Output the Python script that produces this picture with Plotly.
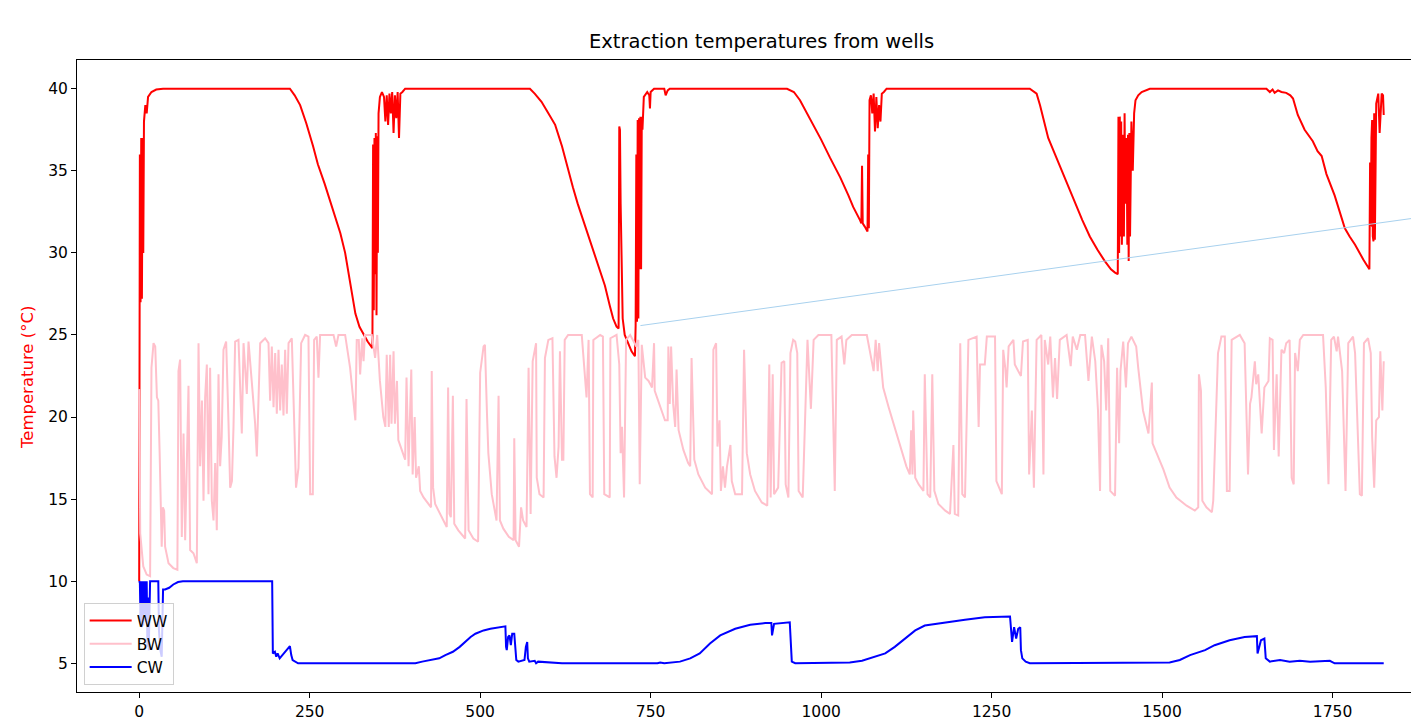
import plotly.graph_objects as go

# ---- data (day index, temperature in deg C) ----
ww_points = [
    (0, 10), (0.5, 22), (1, 36), (2, 27), (3, 37), (4, 27.2), (5, 37), (6, 30), (7, 38), (9, 39),
    (11, 38.5), (13, 39.5), (18, 39.8), (25, 39.95), (35, 40), (221, 40), (228, 39.6), (236, 39.0),
    (245, 37.9), (255, 36.5), (262, 35.4), (272, 34.2), (284, 32.6), (295, 31.2), (302, 30.0),
    (308, 28.6), (313, 27.2), (317, 26.3), (323, 25.5), (328, 25.1), (335, 24.6), (342, 24.2),
    (343, 36.6), (344, 26.5), (345, 37.0), (346, 28.7), (347, 37.3), (348, 26.2), (349, 37.1),
    (350, 30), (351, 38.5), (353, 39.5), (356, 39.8), (359, 39.5), (361, 38.0), (363, 39.6),
    (365, 37.8), (367, 39.7), (369, 38.5), (371, 39.8), (373, 37.3), (375, 39.6), (377, 38.2),
    (379, 39.8), (381, 37.0), (383, 39.7), (386, 39.8), (390, 40), (573, 40), (580, 39.7),
    (590, 39.2), (600, 38.5), (610, 37.8), (620, 36.5), (629, 35.0), (636, 34.0), (643, 33.0),
    (655, 31.5), (666, 30.0), (675, 29.0), (683, 28.0), (690, 26.8), (695, 26.0), (700, 25.5),
    (703, 25.4), (704, 37.7), (705, 37.5), (706, 33.0), (707, 30.0), (709, 26.0), (712, 25.0),
    (717, 24.5), (722, 24.0), (727, 23.7), (728, 25.6), (729, 36.0), (730, 25.8), (731, 38.1),
    (732, 26), (733, 38.2), (734, 29), (735, 38.3), (736, 29), (737, 38.3), (738, 37.5),
    (740, 39.5), (745, 39.8), (748, 39.6), (749, 38.8), (750, 39.8), (755, 40), (770, 40),
    (772, 39.6), (775, 39.9), (778, 40), (950, 40), (960, 39.8), (969, 39.3), (978, 38.6),
    (988, 37.9), (1000, 36.9), (1013, 35.8), (1028, 34.6), (1040, 33.5), (1047, 32.8),
    (1057, 32.0), (1059, 31.8), (1060, 35.3), (1061, 31.8), (1064, 31.6), (1067, 31.4),
    (1068, 31.3), (1069, 36), (1070, 31.5), (1071, 39.3), (1073, 39.6), (1075, 38.5),
    (1077, 39.7), (1079, 37.4), (1081, 39.5), (1083, 37.6), (1085, 39.0), (1087, 38.0),
    (1089, 39.7), (1092, 39.8), (1096, 40), (1306, 40), (1316, 39.7), (1321, 39), (1327, 38.0),
    (1333, 37.0), (1343, 36.0), (1353, 35.0), (1362, 34.0), (1372, 33.0), (1383, 32.0),
    (1394, 31.0), (1405, 30.2), (1416, 29.5), (1425, 29.0), (1431, 28.8), (1435, 28.7),
    (1436, 38.3), (1437, 30), (1438, 38.3), (1439, 31), (1440, 38.0), (1441, 30.5), (1443, 37.2),
    (1444, 31.0), (1445, 38.5), (1446, 33), (1448, 37.0), (1449, 30.5), (1450, 37.2),
    (1451, 29.5), (1452, 37.3), (1453, 31), (1455, 38.0), (1457, 35), (1459, 38.5), (1461, 39.3),
    (1465, 39.6), (1470, 39.8), (1482, 40), (1653, 40), (1658, 39.8), (1662, 39.95),
    (1665, 39.75), (1670, 39.9), (1675, 39.8), (1682, 39.75), (1688, 39.6), (1692, 39.4),
    (1699, 38.4), (1709, 37.5), (1721, 36.8), (1728, 36.2), (1734, 35.9), (1741, 34.8),
    (1753, 33.5), (1760, 32.5), (1768, 31.5), (1775, 31.0), (1783, 30.5), (1795, 29.6),
    (1804, 29.0), (1805, 35.5), (1806, 31.6), (1807, 37.0), (1808, 38.1), (1809, 31.0),
    (1810, 30.7), (1811, 38.5), (1812, 30.8), (1814, 39.1), (1817, 39.7), (1819, 37.3),
    (1822, 39.7), (1824, 39.6), (1825, 38.4),
]

bw_points = [
    (0, 21.7), (1.5, 12.9), (6, 10.9), (11, 10.4), (16, 10.3), (18, 23.0), (21, 24.5), (23.5, 24.3),
    (26, 21.2), (28, 21.0), (30, 17.8), (33, 12.1), (34.7, 14.5), (36.6, 14.3), (38, 12.1),
    (43, 11.1), (50, 10.8), (56, 10.7), (57.6, 22.8), (60, 23.5), (62.5, 12.7), (65, 19.0),
    (67.4, 12.5), (72.3, 21.9), (74.7, 11.9), (79.6, 11.7), (84.5, 11.1), (87, 24.5), (89.4, 17.0),
    (92, 21.0), (94.3, 14.9), (96.7, 21.2), (99.2, 23.2), (101.6, 15.3), (104, 23.0), (106.5, 14.9),
    (109, 13.7), (111.4, 17.2), (113.8, 13.1), (116.3, 22.6), (118.7, 17.0), (121, 18.8),
    (123.6, 24.1), (127.5, 24.6), (131, 19.6), (133.4, 15.7), (136, 16.1), (138.3, 19.4),
    (140.7, 24.6), (145.6, 24.7), (150.5, 19.0), (153, 24.5), (157.8, 21.4), (160.3, 24.6),
    (165, 22.2), (170, 19.6), (172.5, 17.6), (177.4, 24.5), (184.7, 24.8), (189.6, 24.5),
    (192, 21.0), (194.5, 24.3), (197, 20.6), (199.4, 23.9), (201.8, 20.2), (204.3, 24.1),
    (206.7, 20.4), (209.1, 23.2), (211.6, 20.1), (214, 24.1), (216.5, 20.2), (219, 24.5),
    (223.8, 24.8), (226.3, 21.0), (230, 15.7), (233.6, 16.9), (237.5, 24.5), (243.3, 25.0),
    (248.2, 24.9), (250.7, 15.3), (254.6, 15.3), (256.5, 24.7), (260.4, 24.9), (262.9, 22.4),
    (265.3, 25.0), (285, 25.0), (288.8, 24.3), (292.2, 25.0), (302, 25.0), (309.3, 23.0),
    (314.2, 21.0),
    (317, 19.8), (319, 24.7), (322, 24.7), (324, 22.6), (327, 24.8), (329, 23.4), (331, 25.0),
    (341, 25.0), (346, 23.6), (349, 25.0), (351, 23.6), (353, 22.2), (358, 20.0), (361, 19.4),
    (363, 23.8), (366, 19.4), (368, 23.8), (370, 19.6), (373, 24.0), (375, 19.6), (378, 22.2),
    (380, 18.6), (385, 18.0), (390, 17.4), (392, 22.4), (395, 17.0), (399, 22.9), (401, 16.5),
    (404, 20.0), (406, 16.3), (410, 17.0), (412, 15.5), (417, 15.1), (424, 14.7), (428, 14.5),
    (429, 22.8), (431, 15.7), (434, 14.7), (441, 14.1), (449, 13.5), (451, 13.3), (453, 21.8),
    (455, 14.1), (457, 13.9), (460, 21.3), (462, 13.5), (468, 13.1), (478, 12.6), (480, 21.1),
    (483, 13.1), (490, 12.6), (497, 12.4), (500, 22.7), (505, 24.3), (507, 24.4), (510, 20.2),
    (512, 17.8), (515, 16.3), (517, 15.3), (524, 13.7), (527, 21.3), (529, 13.7), (534, 13.2),
    (542, 12.7), (549, 12.5), (550, 18.7), (552, 12.5), (557, 12.1), (560, 14.5), (563, 13.7),
    (568, 13.3), (571, 23.0), (574, 14.1), (577, 23.4), (582, 24.5), (583, 16.3), (587, 15.3),
    (593, 15.1), (595, 23.6), (600, 24.7), (606, 24.8), (609, 17.6), (612, 16.3), (615, 18.2),
    (617, 24.0), (620, 17.4), (622, 17.4), (624, 24.7), (629, 25.0), (649, 25.0), (654, 21.8),
    (656, 21.2), (659, 24.7), (661, 15.3), (665, 15.1), (666, 24.7), (676, 25.0), (680, 24.9),
    (682, 15.3), (690, 15.1), (691, 24.8), (700, 25.0), (704, 23.2), (706, 17.8), (708, 19.4),
    (711, 15.1), (714, 24.7), (720, 25.0), (729, 24.3), (732, 24.7), (734, 15.9), (737, 24.4),
    (742, 22.4), (747, 22.2), (752, 21.8), (755, 24.5), (756, 21.6), (764, 20.6), (771, 19.8),
    (775, 19.8), (776, 24.3), (778, 20.8), (780, 24.3), (783, 20.8), (786, 19.4), (788, 22.9),
    (791, 19.2), (798, 18.0), (805, 17.2), (808, 17.0), (810, 23.6), (814, 17.4), (820, 16.5),
    (830, 15.7), (840, 15.3), (842, 24.1), (846, 24.5), (848, 18.2), (851, 19.8), (853, 15.5),
    (856, 17.0), (859, 15.7), (862, 17.0), (867, 18.3), (869, 16.1), (874, 15.3), (884, 15.3),
    (887, 24.1), (891, 17.8), (896, 16.5), (903, 15.5), (913, 14.8), (921, 14.6), (924, 23.2),
    (926, 15.1), (929, 22.6), (931, 15.3), (937, 15.7), (942, 23.3), (946, 23.4), (948, 15.9),
    (952, 15.1), (955, 23.9), (959, 24.7), (962, 24.6), (965, 23.9), (967, 15.5), (973, 15.1),
    (979, 24.7),
    (980, 24.7), (985, 20.5), (989, 24.7), (996, 25.0), (1015, 25.0), (1020, 15.5), (1023, 24.7),
    (1030, 24.9), (1034, 23.2), (1037, 24.7), (1045, 25.0), (1067, 25.0), (1074, 23.6),
    (1077, 22.8), (1080, 24.7), (1083, 22.8), (1085, 24.5), (1091, 21.8), (1099, 20.6),
    (1108, 19.4), (1116, 18.2), (1125, 17.0), (1130, 16.5), (1132, 19.2), (1134, 16.5),
    (1135, 20.4), (1138, 16.3), (1143, 15.9), (1150, 15.5), (1152, 22.6), (1156, 15.3),
    (1160, 15.1), (1163, 22.6), (1166, 15.5), (1172, 14.7), (1182, 14.3), (1189, 14.1),
    (1194, 18.3), (1196, 14.1), (1201, 14.0), (1204, 24.5), (1207, 15.3), (1211, 15.1),
    (1216, 24.7), (1228, 24.9), (1231, 19.4), (1233, 23.2), (1240, 23.2), (1243, 24.9),
    (1255, 24.9), (1257, 16.1), (1265, 15.3), (1267, 24.1), (1270, 23.0), (1272, 21.8),
    (1275, 24.3), (1282, 24.7), (1284, 23.2), (1289, 22.8), (1293, 22.5), (1296, 24.6),
    (1303, 24.7), (1305, 16.5),
    (1309, 20.4), (1312, 15.7), (1316, 24.7), (1323, 25.0), (1326, 16.5), (1328, 24.7),
    (1333, 23.2), (1336, 24.9), (1340, 21.2), (1343, 23.6), (1346, 21.1), (1350, 24.7),
    (1360, 25.0), (1366, 23.1), (1369, 24.9), (1375, 24.1), (1380, 25.0), (1387, 25.0),
    (1392, 22.2), (1397, 24.9), (1402, 23.4), (1406, 20.4), (1409, 15.5), (1411, 24.4),
    (1415, 23.4), (1418, 20.4), (1421, 24.8), (1424, 15.5), (1431, 15.2), (1434, 23.0),
    (1437, 18.4), (1439, 22.8), (1443, 24.6), (1447, 21.8), (1450, 24.5), (1455, 24.9),
    (1462, 24.3), (1465, 23.0), (1472, 20.4), (1480, 19.0), (1485, 22.1), (1486, 18.4),
    (1492, 17.8), (1502, 16.8), (1511, 15.7), (1521, 15.1), (1536, 14.6), (1548, 14.3),
    (1553, 14.5), (1554, 22.6), (1557, 21.6), (1559, 14.9), (1565, 14.5), (1573, 14.2),
    (1575, 14.9), (1578, 19.2), (1582, 23.9), (1587, 24.9), (1592, 24.9), (1595, 15.5),
    (1599, 15.5), (1602, 24.7), (1614, 25.0), (1621, 24.5), (1624, 19.8), (1626, 16.5),
    (1629, 20.8), (1631, 21.2), (1636, 23.4),
    (1638, 22.0), (1641, 22.6), (1646, 19.0), (1650, 21.8), (1656, 22.2), (1658, 24.8),
    (1662, 24.7), (1664, 18.0), (1668, 22.6), (1671, 17.6), (1675, 24.1), (1679, 23.9),
    (1682, 24.5), (1687, 24.7), (1690, 16.3), (1693, 15.9), (1695, 23.9), (1699, 22.8),
    (1702, 24.7), (1707, 25.0), (1736, 25.0), (1740, 21.8), (1744, 15.9), (1748, 24.7),
    (1752, 24.9), (1756, 24.0), (1758, 24.9), (1764, 22.8), (1769, 15.5), (1773, 24.5),
    (1780, 24.9), (1783, 23.9), (1788, 17.2), (1790, 15.3), (1793, 15.2), (1796, 24.5),
    (1802, 24.8), (1806, 23.9), (1808, 18.8), (1811, 15.7), (1814, 19.8), (1818, 20.0),
    (1820, 24.0), (1823, 20.4), (1825, 23.4),
]

cw_points = [
    (0, 10), (1, 9.9), (2, 7.5), (3, 10), (4, 7.2), (5, 10), (6, 7.3), (7, 10), (8, 8), (9, 10),
    (10, 7.5), (11, 10), (12, 6.0), (13, 9), (14, 5.8), (15, 8.5), (16, 10), (22, 10), (28, 10),
    (29, 7), (31, 5.8), (33, 5.4), (34, 7), (35, 9.5), (38, 9.5), (44, 9.6), (50, 9.8),
    (57, 9.95), (64, 10), (195, 10), (196, 5.6), (199, 5.7), (201, 5.4), (203, 5.6), (206, 5.3),
    (210, 5.5), (217, 5.8), (221, 6.05), (223, 5.5), (225, 5.2), (233, 5.0), (405, 5.0),
    (415, 5.1), (427, 5.2), (440, 5.3), (449, 5.5), (460, 5.7), (470, 6.0), (478, 6.3),
    (486, 6.6), (493, 6.8), (505, 7.0), (515, 7.1), (525, 7.15), (537, 7.25), (538, 6.0),
    (539, 5.8), (541, 6.6), (543, 6.7), (545, 6.1), (547, 6.8), (550, 6.8), (552, 5.9),
    (553, 5.2), (556, 5.1), (560, 5.15), (565, 5.2), (567, 6.0), (569, 6.3), (570, 5.3),
    (572, 5.1), (580, 5.15), (582, 5.0), (585, 5.1), (600, 5.05), (620, 5.0), (760, 5.0),
    (764, 5.05), (770, 5.0), (793, 5.1), (808, 5.3), (822, 5.6), (837, 6.2), (852, 6.7),
    (874, 7.1), (896, 7.35), (918, 7.45), (927, 7.45), (928, 6.7), (931, 7.4), (954, 7.5),
    (957, 5.1), (962, 5.0), (1042, 5.05), (1060, 5.15), (1072, 5.3), (1094, 5.6), (1108, 6.0),
    (1123, 6.5), (1138, 7.0), (1152, 7.3), (1182, 7.5), (1211, 7.65), (1240, 7.8), (1277, 7.85),
    (1280, 6.3), (1283, 7.2), (1286, 6.5), (1289, 7.1), (1292, 7.2), (1293, 5.8), (1295, 5.3),
    (1300, 5.1), (1306, 5.0), (1511, 5.05), (1526, 5.2), (1541, 5.5), (1563, 5.8), (1577, 6.1),
    (1599, 6.4), (1621, 6.6), (1639, 6.65), (1640, 5.6), (1645, 6.4), (1650, 6.5), (1652, 5.3),
    (1658, 5.1), (1673, 5.2), (1687, 5.1), (1702, 5.15), (1717, 5.1), (1746, 5.15), (1753, 5.0),
    (1825, 5.0),
]

trend_days = [735, 1865]
trend_temp = [25.57, 32.09]

series_names = ["WW", "BW", "CW"]
series_colors = ["#ff0000", "#ffc0cb", "#0000ff"]
x_ticks = [0, 250, 500, 750, 1000, 1250, 1500, 1750]
y_ticks = [5, 10, 15, 20, 25, 30, 35, 40]

FONT = "DejaVu Sans, Liberation Sans, sans-serif"

fig = go.Figure()
for name, color, pts in zip(series_names, series_colors, [ww_points, bw_points, cw_points]):
    fig.add_trace(go.Scatter(
        x=[p[0] for p in pts], y=[p[1] for p in pts], mode="lines", name=name,
        line=dict(color=color, width=2),
    ))

fig.add_trace(go.Scatter(
    x=trend_days, y=trend_temp, mode="lines", showlegend=False,
    line=dict(color="#a8d1ee", width=1),
))

fig.update_layout(
    width=1411, height=722,
    margin=dict(l=77, r=0, t=60, b=30),
    paper_bgcolor="white", plot_bgcolor="white",
    font=dict(family=FONT, size=15.5, color="#000000"),
    showlegend=True,
    legend=dict(
        x=0.005, y=0.011, xanchor="left", yanchor="bottom",
        bgcolor="rgba(255,255,255,0.8)", bordercolor="#d0d0d0", borderwidth=1,
        font=dict(family=FONT, size=15.5, color="#000000"),
        tracegroupgap=0, itemwidth=42,
    ),
    annotations=[
        dict(text="Extraction temperatures from wells", xref="paper", yref="paper",
             x=(761 - 77) / 1334, y=1, yshift=19, xanchor="center", yanchor="middle",
             showarrow=False, font=dict(family=FONT, size=19.5, color="#000000")),
        dict(text="Temperature (°C)", xref="paper", yref="paper", x=0, xshift=-50,
             y=0.5, yshift=-2, textangle=-90, xanchor="center", yanchor="middle", showarrow=False,
             font=dict(family=FONT, size=16.5, color="#ff0000")),
    ],
)

fig.update_xaxes(
    range=[-91.2, 1865], tickvals=x_ticks, ticktext=[str(v) for v in x_ticks],
    showgrid=False, zeroline=False, showline=True, linecolor="#000000", linewidth=1,
    mirror=True, ticks="outside", ticklen=5, tickcolor="#000000",
    tickfont=dict(family=FONT, size=15.5, color="#000000"),
)
fig.update_yaxes(
    range=[3.25, 41.75], tickvals=y_ticks, ticktext=[str(v) for v in y_ticks],
    showgrid=False, zeroline=False, showline=True, linecolor="#000000", linewidth=1,
    mirror=False, ticks="outside", ticklen=5, tickcolor="#000000",
    tickfont=dict(family=FONT, size=15.5, color="#000000"),
)

fig.write_html("out.html")
